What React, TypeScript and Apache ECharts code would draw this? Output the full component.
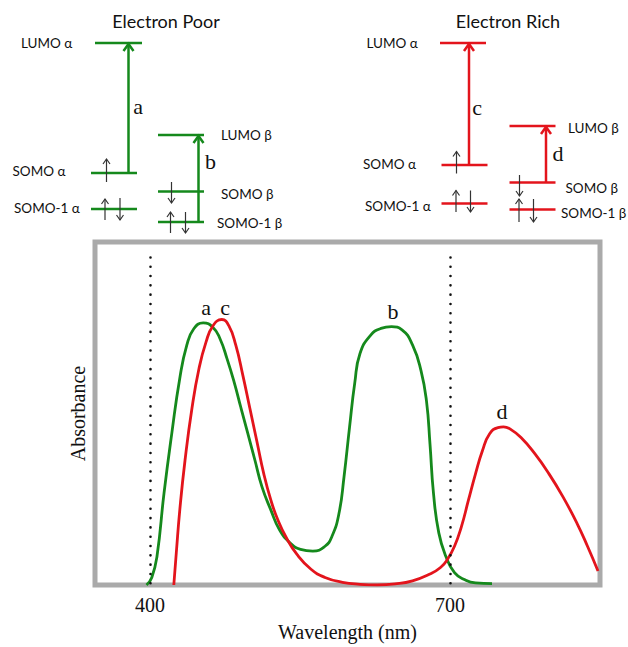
import React, { useEffect, useRef } from "react";
import * as echarts from "echarts";

// ---- Absorbance data (wavelength in nm, absorbance in arbitrary units 0..1) ----
const poorWavelength = [396.5, 401.8, 407, 414, 421.7, 429.8, 436.8, 443.8, 453.2, 463, 470, 477, 484, 491, 498, 505, 512, 520.8, 529.5, 540, 550.5, 562.8, 575, 582, 589, 594, 599.5, 604.8, 610, 620.5, 631, 641.5, 652, 662.5, 671, 676.5, 680, 683.5, 688.8, 695.8, 704.5, 715, 725.5, 742];
const poorAbsorbance = [0, 0.022, 0.084, 0.267, 0.44, 0.603, 0.699, 0.747, 0.764, 0.751, 0.718, 0.66, 0.593, 0.516, 0.44, 0.363, 0.286, 0.219, 0.161, 0.123, 0.104, 0.099, 0.113, 0.142, 0.209, 0.315, 0.459, 0.59, 0.675, 0.728, 0.748, 0.753, 0.744, 0.7, 0.625, 0.536, 0.411, 0.267, 0.152, 0.084, 0.036, 0.015, 0.006, 0.004];

const richWavelength = [423.8, 426.3, 429.8, 435, 442, 449, 456, 463, 471.8, 478.8, 485.8, 492.8, 499.8, 506.8, 513.8, 520.8, 527.8, 536.5, 547, 561, 575, 592.5, 610, 627.5, 645, 662.5, 680, 690.5, 697.5, 704.5, 711.5, 718.5, 725.5, 732.5, 739.5, 748, 753.5, 760.5, 771, 785, 799, 813, 827, 837.5, 848];
const richAbsorbance = [0, 0.094, 0.219, 0.363, 0.516, 0.631, 0.708, 0.756, 0.774, 0.756, 0.699, 0.612, 0.516, 0.42, 0.324, 0.248, 0.19, 0.137, 0.089, 0.046, 0.022, 0.008, 0.002, 0, 0.003, 0.012, 0.032, 0.051, 0.075, 0.113, 0.171, 0.248, 0.324, 0.392, 0.44, 0.459, 0.461, 0.454, 0.43, 0.382, 0.324, 0.257, 0.18, 0.113, 0.041];

const tickValues = [400, 700];
const dottedMarkers = [400, 700];

const poorPeakNames = ["a", "b"];
const poorPeakWavelengths = [456, 643];
const poorPeakLevels = [0.81, 0.797];
const richPeakNames = ["c", "d"];
const richPeakWavelengths = [475, 752];
const richPeakLevels = [0.81, 0.507];

const GREEN = "#15891c";
const RED = "#e3141c";
const SANS = "Lato, 'Open Sans', sans-serif";
const SERIF = "'Liberation Serif', 'DejaVu Serif', serif";

// ---- Schematic energy-level diagram helpers ----
type G = any;
function level(x1: number, x2: number, y: number, color: string): G {
  return { type: "line", shape: { x1, y1: y, x2, y2: y }, style: { stroke: color, lineWidth: 2.5 } };
}
function transition(x: number, yBottom: number, yTop: number, color: string): G[] {
  return [
    { type: "line", shape: { x1: x, y1: yBottom, x2: x, y2: yTop + 1 }, style: { stroke: color, lineWidth: 2.5 } },
    {
      type: "polyline",
      shape: { points: [[x - 5, yTop + 8], [x, yTop + 1], [x + 5, yTop + 8]] },
      style: { stroke: color, lineWidth: 2.5, fill: "none" },
    },
  ];
}
function spin(x: number, yTop: number, yBottom: number, up: boolean): G[] {
  const tip = up ? yTop : yBottom;
  const d = up ? 5 : -5;
  return [
    { type: "line", shape: { x1: x, y1: yTop, x2: x, y2: yBottom }, style: { stroke: "#333", lineWidth: 1.2 } },
    {
      type: "polyline",
      shape: { points: [[x - 3.5, tip + d], [x, tip], [x + 3.5, tip + d]] },
      style: { stroke: "#333", lineWidth: 1.2, fill: "none" },
    },
  ];
}
function label(text: string, x: number, y: number): G {
  return {
    type: "text",
    x,
    y,
    style: { text, fill: "#111", font: `13.5px ${SANS}`, textAlign: "left", textVerticalAlign: "middle" },
  };
}
function letter(text: string, x: number, y: number): G {
  return {
    type: "text",
    x,
    y,
    style: { text, fill: "#111", font: `22px ${SERIF}`, textAlign: "center", textVerticalAlign: "middle" },
  };
}
function title(text: string, x: number, y: number): G {
  return {
    type: "text",
    x,
    y,
    style: { text, fill: "#111", font: `18px ${SANS}`, textAlign: "center", textVerticalAlign: "middle" },
  };
}

function buildDiagram(): G[] {
  const g: G[] = [];
  // Electron Poor
  g.push(title("Electron Poor", 166, 21));
  g.push(level(95, 142, 43, GREEN), label("LUMO α", 21, 43));
  g.push(level(91, 137, 173, GREEN), label("SOMO α", 12.5, 171));
  g.push(level(91, 137, 209, GREEN), label("SOMO-1 α", 14, 208));
  g.push(...transition(128.5, 173, 43, GREEN), letter("a", 138, 106));
  g.push(...spin(106.5, 159, 182, true));
  g.push(...spin(105, 199, 220, true), ...spin(120, 198, 220, false));
  g.push(level(158, 204, 135, GREEN), label("LUMO β", 221, 135));
  g.push(level(158, 204, 191.5, GREEN), label("SOMO β", 221, 194));
  g.push(level(158, 204, 222, GREEN), label("SOMO-1 β", 217, 223));
  g.push(...transition(198.5, 222, 135, GREEN), letter("b", 210.5, 161));
  g.push(...spin(171.5, 182, 203, false));
  g.push(...spin(170.5, 212, 233, true), ...spin(185.5, 212, 233, false));
  // Electron Rich
  g.push(title("Electron Rich", 508, 21));
  g.push(level(440, 486, 43, RED), label("LUMO α", 366.5, 43));
  g.push(level(441.5, 487.5, 165, RED), label("SOMO α", 363, 163.5));
  g.push(level(441.5, 487.5, 203.5, RED), label("SOMO-1 α", 365, 206));
  g.push(...transition(469, 165, 43, RED), letter("c", 477, 107));
  g.push(...spin(456.5, 151.5, 173.5, true));
  g.push(...spin(456, 190.5, 212, true), ...spin(470.5, 190.5, 212, false));
  g.push(level(509.5, 555.5, 126, RED), label("LUMO β", 568, 128));
  g.push(level(509.5, 555.5, 182.5, RED), label("SOMO β", 565.5, 188));
  g.push(level(509.5, 555.5, 209.5, RED), label("SOMO-1 β", 561, 212.5));
  g.push(...transition(546, 182.5, 126, RED), letter("d", 558, 153));
  g.push(...spin(519.5, 175, 196, false));
  g.push(...spin(519, 199, 222, true), ...spin(533.5, 199, 222, false));
  return g;
}

function peakMarks(names: string[], xs: number[], ys: number[]) {
  return names.map((name, i) => ({ name, coord: [xs[i], ys[i]] }));
}

export default function App() {
  const ref = useRef<HTMLDivElement>(null);
  useEffect(() => {
    document.body.style.margin = "0";
    if (!ref.current) return;
    const chart = echarts.init(ref.current, undefined, { renderer: "svg" });
    const markPointStyle = {
      symbol: "rect",
      symbolSize: 1,
      itemStyle: { color: "rgba(0,0,0,0)" },
      label: {
        show: true,
        position: "inside",
        formatter: "{b}",
        color: "#111",
        fontSize: 22,
        fontFamily: SERIF,
      },
    };
    chart.setOption({
      animation: false,
      backgroundColor: "#fff",
      graphic: buildDiagram(),
      grid: {
        left: 95,
        top: 242,
        width: 505,
        height: 349,
        show: true,
        borderColor: "#aaaaaa",
        borderWidth: 5,
        backgroundColor: "#fff",
      },
      xAxis: {
        type: "value",
        min: 345,
        max: 850,
        axisLine: { show: false },
        axisTick: { show: false },
        splitLine: { show: false },
        axisLabel: {
          customValues: tickValues,
          color: "#111",
          fontSize: 20,
          fontFamily: SERIF,
          margin: 10,
        },
        name: "Wavelength (nm)",
        nameLocation: "middle",
        nameGap: 37,
        nameTextStyle: { color: "#111", fontSize: 20, fontFamily: SERIF },
      },
      yAxis: {
        type: "value",
        min: 0,
        max: 1,
        axisLine: { show: false },
        axisTick: { show: false },
        splitLine: { show: false },
        axisLabel: { show: false },
        name: "Absorbance",
        nameLocation: "middle",
        nameGap: 7,
        nameTextStyle: { color: "#111", fontSize: 20, fontFamily: SERIF },
      },
      series: [
        {
          name: "markers",
          type: "line",
          data: [],
          silent: true,
          markLine: {
            silent: true,
            symbol: ["none", "none"],
            label: { show: false },
            lineStyle: { color: "#111", width: 2.6, type: [0.01, 9.3], cap: "round" },
            data: dottedMarkers.map((w) => [{ coord: [w, 0.005] }, { coord: [w, 0.974] }]),
          },
        },
        {
          name: "Electron Poor",
          type: "line",
          data: poorWavelength.map((w, i) => [w, poorAbsorbance[i]]),
          showSymbol: false,
          smooth: 0.5,
          lineStyle: { color: GREEN, width: 2.8 },
          itemStyle: { color: GREEN },
          markPoint: { ...markPointStyle, data: peakMarks(poorPeakNames, poorPeakWavelengths, poorPeakLevels) },
        },
        {
          name: "Electron Rich",
          type: "line",
          data: richWavelength.map((w, i) => [w, richAbsorbance[i]]),
          showSymbol: false,
          smooth: 0.5,
          lineStyle: { color: RED, width: 2.8 },
          itemStyle: { color: RED },
          markPoint: { ...markPointStyle, data: peakMarks(richPeakNames, richPeakWavelengths, richPeakLevels) },
        },
      ],
    });
    return () => chart.dispose();
  }, []);
  return <div ref={ref} style={{ width: 628, height: 647 }} />;
}
